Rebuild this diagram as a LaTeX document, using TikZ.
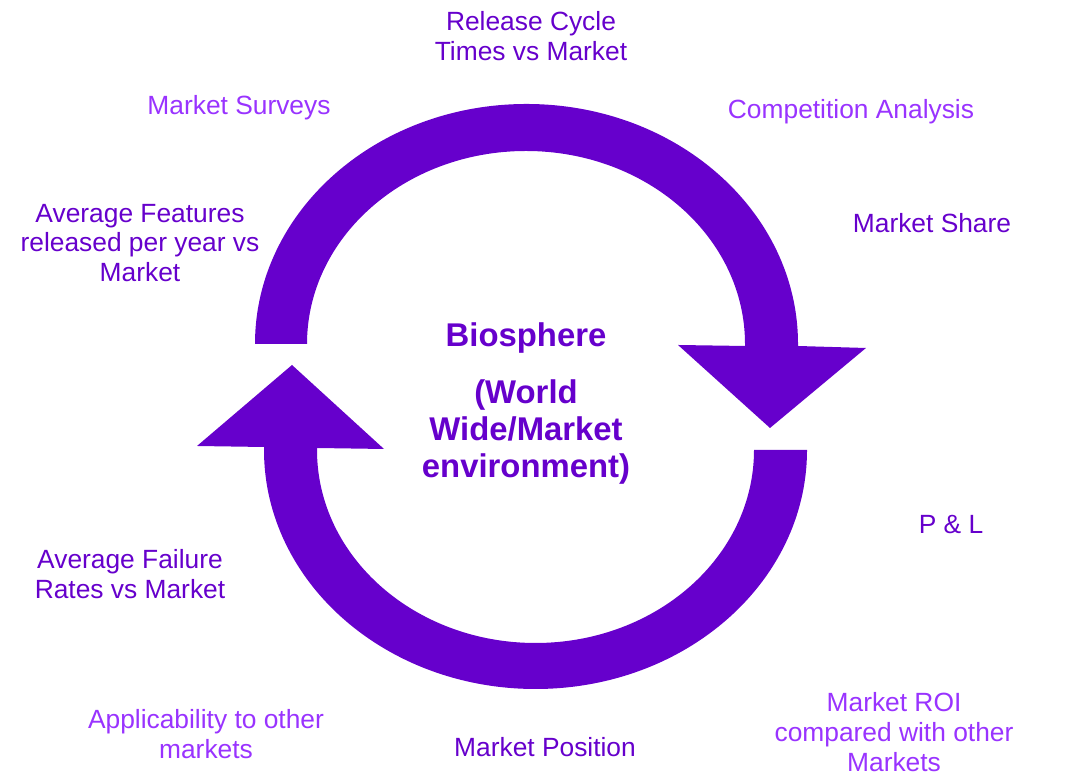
\documentclass[tikz,border=0pt]{standalone}
\usepackage{fontspec}
\setmainfont{Liberation Sans}
\definecolor{deeppurple}{HTML}{6600CC}
\definecolor{lightpurple}{HTML}{9933FF}
\begin{document}
\begin{tikzpicture}[x=0.02cm,y=0.02cm,
  lbl/.style={align=center,inner sep=0pt,text=deeppurple,font=\fontsize{15}{17}\selectfont},
  lbllight/.style={lbl,text=lightpurple},
  centre/.style={align=center,inner sep=0pt,text=deeppurple,font=\fontsize{18.7}{21}\selectfont\bfseries}]
\useasboundingbox (0,0) rectangle (1081,776);

% upper arrow, turning clockwise down to the right
\fill[deeppurple] (255,432) arc[start angle=180,end angle=0,x radius=271.5,y radius=240]
  -- (798,430) -- (866,428) -- (770,348) -- (678,431) -- (745,430)
  -- (745,432) arc[start angle=0,end angle=180,x radius=219,y radius=193] -- cycle;
% lower arrow, turning clockwise up to the left
\fill[deeppurple] (807,326) arc[start angle=0,end angle=-180,x radius=271.5,y radius=239]
  -- (264,329) -- (197,330) -- (292,411) -- (384,327) -- (317,328)
  -- (317,326) arc[start angle=180,end angle=360,x radius=218.5,y radius=193] -- cycle;

\node[centre] (bio) at (526,438) {Biosphere};
\node[centre] (world) at (526,344) {(World\\Wide/Market\\environment)};

\node[lbl] (release) at (531,740) {Release Cycle\\Times vs Market};
\node[lbllight] (surveys) at (239,668) {Market Surveys};
\node[lbllight] (compet) at (851,664) {Competition Analysis};
\node[lbl] (share) at (932,553) {Market Share};
\node[lbl] (features) at (140,533) {Average Features\\released per year vs\\Market};
\node[lbl] (pl) at (951,251) {P \& L};
\node[lbl] (failure) at (130,202) {Average Failure\\Rates vs Market};
\node[lbllight] (applic) at (206,42) {Applicability to other\\markets};
\node[lbl] (position) at (545,29) {Market Position};
\node[lbllight] (roi) at (894,44) {Market ROI\\compared with other\\Markets};
\end{tikzpicture}
\end{document}
